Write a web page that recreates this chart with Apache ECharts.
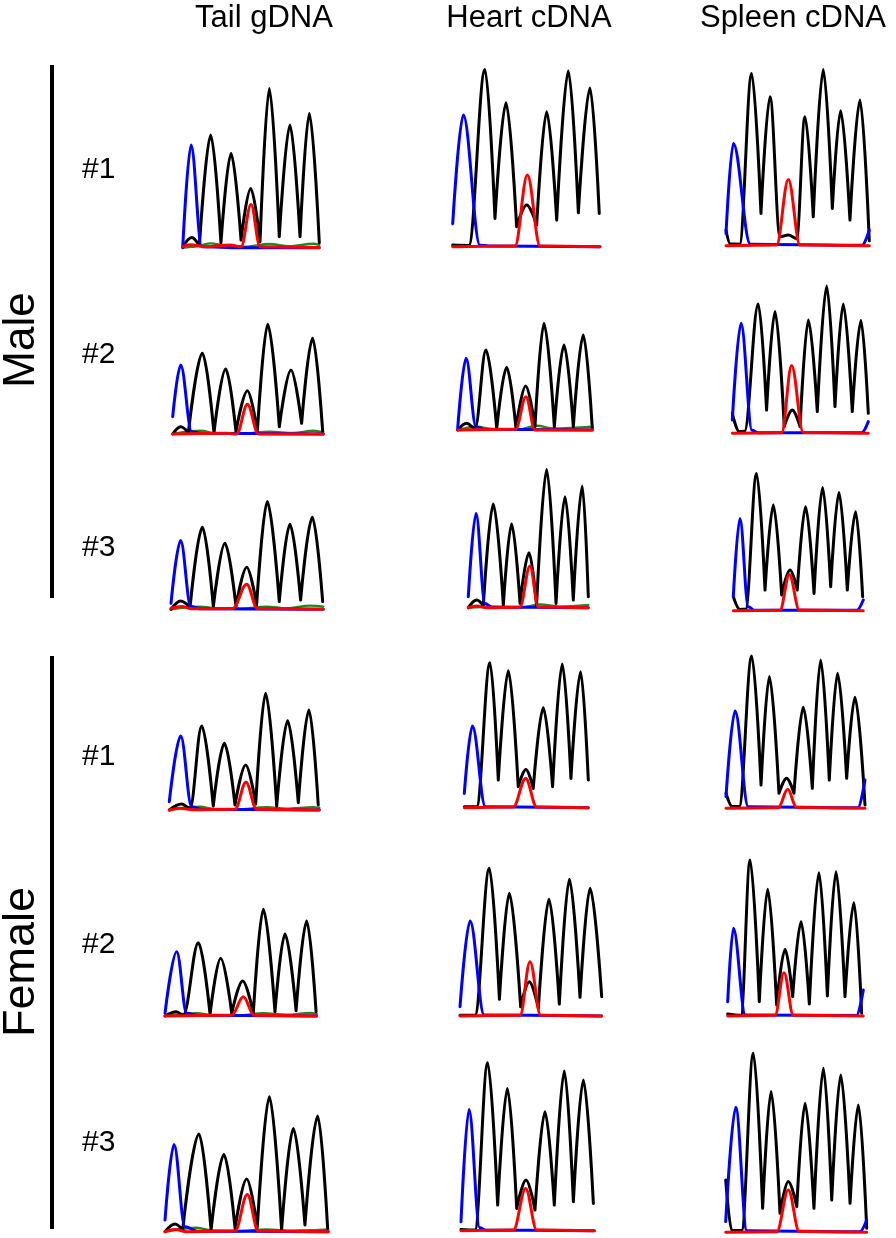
<!DOCTYPE html>
<html><head><meta charset="utf-8">
<script src="https://cdn.jsdelivr.net/npm/echarts@6/dist/echarts.min.js"></script>
<style>html,body{margin:0;padding:0;background:#fff}#c{width:896px;height:1238px}</style>
</head><body><div id="c"></div>
<script>
// ---------- labels ----------
const columnTitles = ['Tail gDNA', 'Heart cDNA', 'Spleen cDNA'];
const groupNames = ['Male', 'Female'];
const sampleNames = ['#1', '#2', '#3'];

// ---------- traces: [scan position (% of window), signal] apex/valley points ----------
// Male #1
const mTail1Blue  = [[0,0],[6.1,102.7],[13.9,1],[42,0],[100,0]];
const mTail1Black = [[0,1],[6.6,10.3],[12.2,2],[20.5,112.7],[28,5],[35.4,94.3],[42.7,7.7],[49.8,59.3],[56.6,6],[63.4,159.3],[70.7,11],[78.5,122.7],[85.9,11],[92.7,134.3],[100,5]];
const mTail1Red   = [[0,1],[5.4,3],[17.6,1],[34.6,2.7],[42.7,1],[50,43.3],[56.6,1],[100,0.3]];
const mTail1Green = [[0,0],[8,1],[20,4.3],[32,2.3],[45,1],[63.9,3.7],[78,1.5],[95.6,4],[100,2.7]];
const mHeart1Blue  = [[0,23],[7.2,131.7],[18.5,1.5],[24.2,0.7],[100,0]];
const mHeart1Black = [[0,1.7],[11,1.3],[21.9,177.3],[28.7,28.3],[36.2,144],[43.4,20],[50.2,41.7],[57,21.7],[63.8,135],[70.6,26.7],[78.5,175.7],[85.3,34],[93.2,158.7],[99.5,33.3]];
const mHeart1Red   = [[0,0],[42.3,0.7],[50.7,71.7],[59.3,0.7],[100,0]];
const mSpleen1Blue  = [[0,12.3],[5.1,102.3],[17,1.5],[95,0.5],[100,15.7]];
const mSpleen1Black = [[0,15.7],[3,1.7],[9.5,1.5],[17.9,172.3],[24.4,32.3],[30.7,149],[37.7,9],[43.5,10.7],[49.3,7.3],[55.1,129],[60.9,29],[67.9,176.3],[74.2,37.3],[80,135],[86.5,25.7],[93.5,145.7],[100,5]];
const mSpleen1Red   = [[0,0],[35.3,0.7],[43.5,66.3],[51.6,0.7],[100,0]];
// Male #2
const mTail2Blue  = [[0,17.3],[5.3,69],[12.6,2.3],[20,0.5],[100,0]];
const mTail2Black = [[0,0],[5.3,7.3],[10.4,1.3],[19.7,80.7],[27.4,1.3],[35.2,65],[42,2.3],[49.6,43.3],[56.2,2.3],[63.1,109.7],[70.8,7.3],[78.5,64],[85.6,10.7],[92.9,95.7],[99.6,2.3]];
const mTail2Red   = [[0,0],[35.8,0.7],[42.5,0],[49.6,29.7],[56.9,0],[100,0]];
const mTail2Green = [[0,0],[19.2,3.3],[27,1],[45,0.5],[64.6,2.3],[80,1],[93.4,3.3],[100,1.7]];
const mHeart2Blue  = [[0,1.7],[6.2,71.7],[13.6,3.3],[20,0.5],[100,0]];
const mHeart2Black = [[0,0],[6.7,6.7],[12.9,1.7],[21,80],[29,1.7],[36.4,62.7],[43.3,1.7],[50.5,44],[57.4,3.3],[64.1,106.7],[71.8,3.3],[79,85],[85.9,3.3],[93.3,95],[100,1.7]];
const mHeart2Red   = [[0,0],[43,0.7],[50.7,33.3],[57.4,0],[100,0]];
const mHeart2Green = [[0,0],[14.1,3.3],[26,1],[45,0.5],[58.7,4.3],[71,1.5],[100,3.3]];
const mSpleen2Blue  = [[0,13.3],[6.4,110],[14.5,3],[19,0.5],[95,0.5],[100,11.7]];
const mSpleen2Black = [[0,20],[5,1.7],[9,2],[19.1,129.3],[25.2,23.3],[31.4,121.7],[38.2,6.7],[44.1,23.3],[49.8,6.7],[55.9,113.3],[62.5,21.7],[69.4,147.3],[75.5,26.7],[81.6,129.3],[88.2,21.7],[94.6,112.7],[100,20]];
const mSpleen2Red   = [[0,0],[36.3,0.5],[43.6,67.7],[52.2,0.7],[100,0]];
// Male #3
const mTail3Blue  = [[0,6],[6.3,68.7],[13,2.7],[20,0.5],[100,0]];
const mTail3Black = [[0,0],[6.3,8.3],[12.5,2],[20.6,82],[27.8,2.7],[35.4,66],[42.7,2.7],[49.7,42],[56.2,4.3],[63.2,107.7],[71.1,7.7],[78.1,85],[85.1,9.3],[92.8,92],[99.6,7.7]];
const mTail3Red   = [[0,1],[7,2.7],[13.8,0.5],[40.5,0.7],[49.7,25],[56.7,0.7],[100,0]];
const mTail3Green = [[0,0],[19,2.7],[30,1],[45,0.5],[62.8,2.7],[76,1],[91.2,3.7],[100,2.7]];
const mHeart3Blue  = [[0,11],[6.4,94.3],[13.9,4.3],[20,0.5],[100,0]];
const mHeart3Black = [[0,0],[6.9,7.7],[12.5,2],[20.8,103.7],[29.2,2.7],[36.1,83.7],[43.1,4.3],[50.6,55],[56.9,2.7],[65.3,138.3],[73.1,4.3],[80.6,111],[87.5,7.7],[95,121.7],[100,11]];
const mHeart3Red   = [[0,0],[6.9,1.7],[15.3,0],[43,0.5],[51.4,41.7],[58.3,0.7],[100,0]];
const mHeart3Green = [[0,0],[20,1],[45,0.5],[59.7,3.3],[76,1],[100,2.7]];
const mSpleen3Blue  = [[0,14],[5.1,92.3],[11.5,4],[16,0.5],[95,0.5],[100,10.7]];
const mSpleen3Black = [[0,14],[5.1,1.3],[9.5,1.5],[17.9,137.3],[24.4,20.7],[30.8,105.7],[37.2,15.7],[43.6,40.7],[49.2,20.7],[55.6,104],[62.1,17.3],[68.7,123.3],[74.9,24],[81.3,118.3],[87.7,20.7],[94.1,99],[99.5,14]];
const mSpleen3Red   = [[0,0],[35.9,0.5],[43.1,36.3],[50.8,0.7],[100,0]];
// Female #1
const fTail1Blue  = [[0,8.3],[7.6,74],[14.9,3.3],[22,0.5],[100,0]];
const fTail1Black = [[0,0],[8.2,6],[13.8,1.7],[21.6,84],[29.3,4],[36.7,66.7],[43.8,5],[50.9,45],[57.6,6],[64.2,116.7],[71.6,4],[78.9,89.3],[86,7.3],[93.1,100],[99.3,5]];
const fTail1Red   = [[0,0],[7.1,1.7],[16,0.3],[43.8,0.7],[51.1,27.7],[58.2,0.7],[100,0]];
const fTail1Green = [[0,0],[20.4,3.3],[30,1],[45,0.5],[64.9,2.7],[78,1.2],[96,2.7],[100,2]];
const fHeart1Blue  = [[0,14.3],[6.5,81.7],[17,1],[100,0]];
const fHeart1Black = [[0,1],[10,1],[20.7,145],[27.4,27.7],[35.5,137],[43.5,21],[49.7,38.3],[55.6,19.3],[63.7,100],[71.2,21],[79,143.7],[86,29.3],[93.8,136],[100,27.7]];
const fHeart1Red   = [[0,0],[39.5,0.7],[49.5,29.3],[58.3,0.7],[100,0]];
const fSpleen1Blue  = [[0,11.7],[6.5,97.3],[16,1.5],[95,0.5],[100,28.3]];
const fSpleen1Black = [[0,15],[4.5,1.7],[9.5,1.7],[18.5,152.3],[25.2,23.3],[31.2,131.7],[38.1,15],[43.6,30],[48.9,15],[55.6,101],[62.1,20],[68.1,148.3],[74.3,28.3],[80.3,135],[86.8,30],[92.8,111],[100,3.3]];
const fSpleen1Red   = [[0,0],[37.6,0.5],[44.4,19],[50.8,0.7],[100,0]];
// Female #2
const fTail2Blue  = [[0,2.7],[7.7,64.3],[14.3,2.7],[22,0.5],[100,0]];
const fTail2Black = [[0,0],[7.3,4.3],[12.1,1],[22,73.3],[29.7,2],[36.7,57.7],[44,2.7],[51.2,35],[58.2,2.7],[64.8,106.7],[72.5,4.3],[79.1,82],[86.4,5.3],[93.4,95],[99.6,4.3]];
const fTail2Red   = [[0,0],[44,0.7],[51.6,19.3],[58.7,0.7],[100,0]];
const fTail2Green = [[0,0],[20.9,2.7],[32,1],[48,0.5],[64.8,2.7],[80,1.2],[95.6,3],[100,2]];
const fHeart2Blue  = [[0,9.3],[7.1,95],[17,1],[100,0]];
const fHeart2Black = [[0,0.7],[10.6,0.7],[20.7,147.7],[27.8,16.7],[34.8,122.7],[42.8,9.3],[48.9,34.3],[55.3,7.7],[62.8,116.7],[70.1,12],[77.2,136.7],[84.7,18.7],[91.8,127.7],[100,19.3]];
const fHeart2Red   = [[0,0],[42.4,0.7],[49.4,54.3],[56.9,0.7],[100,0]];
const fSpleen2Blue  = [[0,14.3],[4.2,87.7],[13,1],[95,0.5],[100,26]];
const fSpleen2Black = [[0,2],[9.8,0.7],[16.5,156],[23.3,14.3],[29.5,126.7],[36.1,11],[42.3,66.7],[47.9,19.3],[54.1,94.3],[60.2,12],[67.3,143.3],[73.5,20],[79.9,144.3],[86.5,19.3],[93.1,113.3],[98.8,2.7]];
const fSpleen2Red   = [[0,0],[34.9,0.7],[41.5,43.3],[48.4,0.7],[100,0]];
// Female #3
const fTail3Blue  = [[0,11.7],[5.5,87.3],[12.2,5],[20,0.5],[100,0]];
const fTail3Black = [[0,0],[6.1,7.7],[10.8,1.7],[20.8,97.7],[28.2,1.7],[36.1,77.3],[42.9,3.3],[50,52.7],[56.5,4.3],[63.9,135],[71.4,1.7],[78.6,103.3],[85.7,6.7],[93.5,115.7],[99.6,3.3]];
const fTail3Red   = [[0,0],[6.1,2.3],[13.3,0],[42.9,0.7],[50.4,37.3],[57.1,0.7],[100,0]];
const fTail3Green = [[0,0],[19.4,4],[29,1],[45,0.5],[62.2,2.3],[75,1],[90,1.5],[100,2.3]];
const fHeart3Blue  = [[0,9],[6,121.3],[14,3],[19,0.5],[100,0]];
const fHeart3Black = [[0,1.3],[10.5,0.7],[20,168],[27.5,25.7],[34.8,142.3],[41.8,22.3],[48.8,50.7],[55.5,20.7],[63,119],[70,25.7],[77.5,159.7],[84.3,29],[91.8,150.7],[99.3,27.3]];
const fHeart3Red   = [[0,0],[39.3,0.7],[48.5,42.3],[56.8,0.7],[100,0]];
const fSpleen3Blue  = [[0,10.7],[7.1,125],[15,1.5],[95,0.5],[100,12.3]];
const fSpleen3Black = [[0,52.3],[4.3,1.7],[11.3,1.7],[19.6,179],[26.2,24],[32.2,140.7],[38.5,19],[44.4,50.7],[50.4,25.7],[56.3,129],[62.6,24],[69.3,164],[75.2,32.3],[81.6,157.3],[88.2,29],[94.1,127.3],[100,4]];
const fSpleen3Red   = [[0,0],[36.2,0.5],[44.4,42.3],[52.2,0.7],[100,0]];

// panel table (rows top->bottom, columns left->right)
const panels = [
  [{g:mTail1Green,k:mTail1Black,b:mTail1Blue,r:mTail1Red},{k:mHeart1Black,b:mHeart1Blue,r:mHeart1Red},{k:mSpleen1Black,b:mSpleen1Blue,r:mSpleen1Red}],
  [{g:mTail2Green,k:mTail2Black,b:mTail2Blue,r:mTail2Red},{g:mHeart2Green,k:mHeart2Black,b:mHeart2Blue,r:mHeart2Red},{k:mSpleen2Black,b:mSpleen2Blue,r:mSpleen2Red}],
  [{g:mTail3Green,k:mTail3Black,b:mTail3Blue,r:mTail3Red},{g:mHeart3Green,k:mHeart3Black,b:mHeart3Blue,r:mHeart3Red},{k:mSpleen3Black,b:mSpleen3Blue,r:mSpleen3Red}],
  [{g:fTail1Green,k:fTail1Black,b:fTail1Blue,r:fTail1Red},{k:fHeart1Black,b:fHeart1Blue,r:fHeart1Red},{k:fSpleen1Black,b:fSpleen1Blue,r:fSpleen1Red}],
  [{g:fTail2Green,k:fTail2Black,b:fTail2Blue,r:fTail2Red},{k:fHeart2Black,b:fHeart2Blue,r:fHeart2Red},{k:fSpleen2Black,b:fSpleen2Blue,r:fSpleen2Red}],
  [{g:fTail3Green,k:fTail3Black,b:fTail3Blue,r:fTail3Red},{k:fHeart3Black,b:fHeart3Blue,r:fHeart3Red},{k:fSpleen3Black,b:fSpleen3Blue,r:fSpleen3Red}]
];

// ---------- layout (pixels) ----------
const layout = [
  [[182.7,319.3,247.7],[452.7,600,246.7],[726,869.3,245.7]],
  [[172.7,323.3,434],[457.7,592.3,430],[732.3,868.3,433.3]],
  [[171,323.3,609.3],[468.3,588.3,607.7],[733.3,863.3,610.7]],
  [[169.3,319.3,810],[464.3,588.3,807.7],[726,865,808.3]],
  [[165,316.7,1016],[460,601.7,1016],[727.7,863.3,1016]],
  [[165,328.3,1231.7],[461,594.3,1230.7],[725.7,866.7,1232.3]]
];
const PH = 185;
const colTitleX = [264, 529, 793];
const rowLabelY = [170, 355, 548, 757, 945, 1143];
const colors = {g:'#1e8a1e', k:'#000000', b:'#0000ff', r:'#ff0000'};
const FONT = '"Liberation Sans", Arial, sans-serif';

// break a trace at its troughs between two peaks so that neighbouring peaks meet in a V,
// as overlapping chromatogram peaks do; feet of isolated peaks stay smooth
function withTroughBreaks(trace) {
  const out = [];
  trace.forEach((p, i) => {
    out.push(p);
    if (i > 0 && i < trace.length - 1 &&
        trace[i - 1][1] > p[1] + 5 && trace[i + 1][1] > p[1] + 5) {
      out.push(null);
      out.push(p);
    }
  });
  return out;
}

const grid = [], xAxis = [], yAxis = [], series = [];
let idx = 0;
panels.forEach((row, ri) => {
  row.forEach((p, ci) => {
    const [L, R, B] = layout[ri][ci];
    grid.push({left: L, top: B - PH, width: R - L, height: PH, containLabel: false});
    xAxis.push({type: 'value', gridIndex: idx, min: 0, max: 100, show: false});
    yAxis.push({type: 'value', gridIndex: idx, min: 0, max: PH, show: false});
    ['g', 'k', 'b', 'r'].forEach(key => {
      if (!p[key]) return;
      series.push({
        type: 'line', xAxisIndex: idx, yAxisIndex: idx, data: withTroughBreaks(p[key]),
        smooth: 0.36, smoothMonotone: 'x', connectNulls: false, showSymbol: false, symbol: 'none',
        clip: false, silent: true, animation: false,
        lineStyle: {color: colors[key], width: key === 'g' ? 2.4 : 3, join: 'round', cap: 'round'}
      });
    });
    idx++;
  });
});

const graphic = [];
columnTitles.forEach((t, i) => graphic.push({type: 'text', x: colTitleX[i], y: 18,
  style: {text: t, font: '31px ' + FONT, fill: '#000', textAlign: 'center', textVerticalAlign: 'middle'}}));
rowLabelY.forEach((y, i) => graphic.push({type: 'text', x: 82, y: y,
  style: {text: sampleNames[i % 3], font: '30px ' + FONT, fill: '#000', textAlign: 'left', textVerticalAlign: 'middle'}}));
graphic.push({type: 'rect', shape: {x: 50, y: 65, width: 4, height: 533}, style: {fill: '#000'}});
graphic.push({type: 'rect', shape: {x: 50, y: 656, width: 4, height: 573}, style: {fill: '#000'}});
graphic.push({type: 'text', x: 22, y: 340, rotation: Math.PI / 2,
  style: {text: groupNames[0], font: '44px ' + FONT, fill: '#000', textAlign: 'center', textVerticalAlign: 'middle'}});
graphic.push({type: 'text', x: 22, y: 962, rotation: Math.PI / 2,
  style: {text: groupNames[1], font: '45px ' + FONT, fill: '#000', textAlign: 'center', textVerticalAlign: 'middle'}});

const chart = echarts.init(document.getElementById('c'), null, {renderer: 'canvas'});
chart.setOption({backgroundColor: '#fff', animation: false, grid, xAxis, yAxis, series, graphic});
</script></body></html>
